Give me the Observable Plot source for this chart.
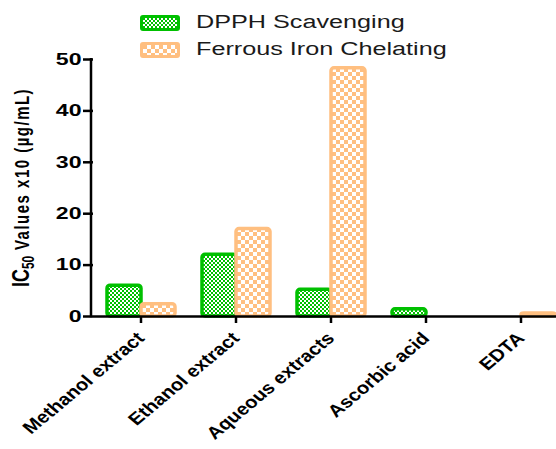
<!DOCTYPE html>
<html><head><meta charset="utf-8">
<script src="https://cdn.jsdelivr.net/npm/d3@7"></script>
<script src="https://cdn.jsdelivr.net/npm/@observablehq/plot@0.6"></script>
<style>
body{margin:0;background:#fff;font-family:"Liberation Sans",Arial,sans-serif;}
#wrap{position:relative;width:556px;height:449px;overflow:hidden;background:#fff;}
#legend{position:absolute;left:140px;top:9px;}
.item{display:flex;align-items:center;height:27px;}
.sw{box-sizing:border-box;width:40px;height:16px;border-radius:3px;margin-right:16px;flex:none;}
.sw.g{background-color:#00c000;border:3px solid #00c000;background-image:repeating-conic-gradient(#ffffff 0 25%, transparent 0 50%);background-size:4px 4px;}
.sw.o{background-color:#ffbf80;border:3px solid #ffbf80;background-image:repeating-conic-gradient(#ffffff 0 25%, transparent 0 50%);background-size:8px 8px;}
.lab{font-size:18px;color:#1a1a1a;display:inline-block;transform:scaleX(1.4);transform-origin:0 50%;white-space:nowrap;}
</style>
</head><body>
<div id="wrap">
  <div id="legend"></div>
</div>
<script>
const categories = ["Methanol extract", "Ethanol extract", "Aqueous extracts", "Ascorbic acid", "EDTA"];
const seriesNames = ["DPPH Scavenging", "Ferrous Iron Chelating"];
const dpph = [6.0, 12.0, 5.2, 1.4, 0];
const ferrous = [2.4, 17.0, 48.3, 0, 0.6];
const yTicks = [0, 10, 20, 30, 40, 50];

const GREEN = "#00c000", PEACH = "#ffbf80";
const rows = categories.flatMap((c, i) => [
  {cat: c, series: seriesNames[0], value: dpph[i]},
  {cat: c, series: seriesNames[1], value: ferrous[i]}
]);

// legend
const legend = document.getElementById("legend");
seriesNames.forEach((s, i) => {
  const it = document.createElement("div"); it.className = "item";
  const sw = document.createElement("div"); sw.className = "sw " + (i === 0 ? "g" : "o");
  const lb = document.createElement("span"); lb.className = "lab"; lb.textContent = s;
  it.appendChild(sw); it.appendChild(lb); legend.appendChild(it);
});

const chart = Plot.plot({
  width: 556, height: 449,
  marginLeft: 91, marginRight: -14, marginTop: 59, marginBottom: 133,
  style: {fontFamily: "Liberation Sans, Arial, sans-serif", background: "transparent", color: "#000"},
  fx: {domain: categories, padding: 0, label: null},
  x: {domain: seriesNames, paddingInner: 0, paddingOuter: 0.39, axis: null},
  y: {domain: [0, 50], label: null},
  marks: [
    Plot.barY(rows.filter(d => d.series === seriesNames[0] && d.value > 0),
      {fx: "cat", x: "series", y: "value", fill: "url(#pat-green)", stroke: GREEN, strokeWidth: 3.5, rx: 3}),
    Plot.barY(rows.filter(d => d.series === seriesNames[1] && d.value > 0),
      {fx: "cat", x: "series", y: "value", fill: "url(#pat-peach)", stroke: PEACH, strokeWidth: 3.5, rx: 3}),
    Plot.ruleY([0], {stroke: "#000", strokeWidth: 2.5}),
    Plot.axisY({ticks: yTicks, tickSize: 10, tickPadding: 2, fontSize: 16.5, fontWeight: "bold", strokeWidth: 2.5, label: null}),
    Plot.axisFx({anchor: "bottom", tickSize: 7, tickRotate: -45, tickPadding: 12, fontSize: 17, fontWeight: "bold", strokeWidth: 2.5, label: null})
  ]
});

const svg = d3.select(chart);
const defs = svg.insert("defs", ":first-child");
const pg = defs.append("pattern").attr("id", "pat-green").attr("patternUnits", "userSpaceOnUse").attr("width", 4).attr("height", 4);
pg.append("rect").attr("width", 4).attr("height", 4).attr("fill", GREEN);
pg.append("rect").attr("width", 2).attr("height", 2).attr("fill", "#fff");
pg.append("rect").attr("x", 2).attr("y", 2).attr("width", 2).attr("height", 2).attr("fill", "#fff");
const po = defs.append("pattern").attr("id", "pat-peach").attr("patternUnits", "userSpaceOnUse").attr("width", 8).attr("height", 8);
po.append("rect").attr("width", 8).attr("height", 8).attr("fill", PEACH);
po.append("rect").attr("width", 4).attr("height", 4).attr("fill", "#fff");
po.append("rect").attr("x", 4).attr("y", 4).attr("width", 4).attr("height", 4).attr("fill", "#fff");

// horizontal stretch of the tick labels (the reference is drawn wide)
function stretch(sel, sx) {
  svg.selectAll(sel).each(function() {
    let tr = this.getAttribute("transform");
    if (!tr) {
      tr = `translate(${this.getAttribute("x") || 0},${this.getAttribute("y") || 0})`;
      this.removeAttribute("x"); this.removeAttribute("y");
    }
    if (tr.includes("rotate(")) tr = tr.replace("rotate(", `scale(${sx},1) rotate(`);
    else tr += ` scale(${sx},1)`;
    this.setAttribute("transform", tr);
  });
}
stretch('g[aria-label="y-axis tick label"] text', 1.4);
stretch('g[aria-label="fx-axis tick label"] text', 1.2);

// y axis line from the y scale
const y = chart.scale("y");
svg.append("line")
  .attr("x1", 91).attr("x2", 91)
  .attr("y1", y.apply(0) + 1.25).attr("y2", y.apply(50) - 1)
  .attr("stroke", "#000").attr("stroke-width", 2.5);

// y axis title with subscript
const t = svg.append("text")
  .attr("transform", `translate(29,${(y.apply(0) + y.apply(50)) / 2}) scale(1.3,1) rotate(-90)`)
  .attr("text-anchor", "middle")
  .attr("font-family", "Liberation Sans, Arial, sans-serif")
  .attr("font-weight", "bold").attr("fill", "#000");
t.append("tspan").attr("font-size", 18).text("IC");
t.append("tspan").attr("font-size", 12).attr("dy", 4).text("50");
t.append("tspan").attr("font-size", 15).attr("dy", -4).attr("letter-spacing", 1.5).text(" Values x10 (µg/mL)");

document.getElementById("wrap").appendChild(chart);
chart.style.position = "absolute"; chart.style.left = "0"; chart.style.top = "0";
</script>
</body></html>
